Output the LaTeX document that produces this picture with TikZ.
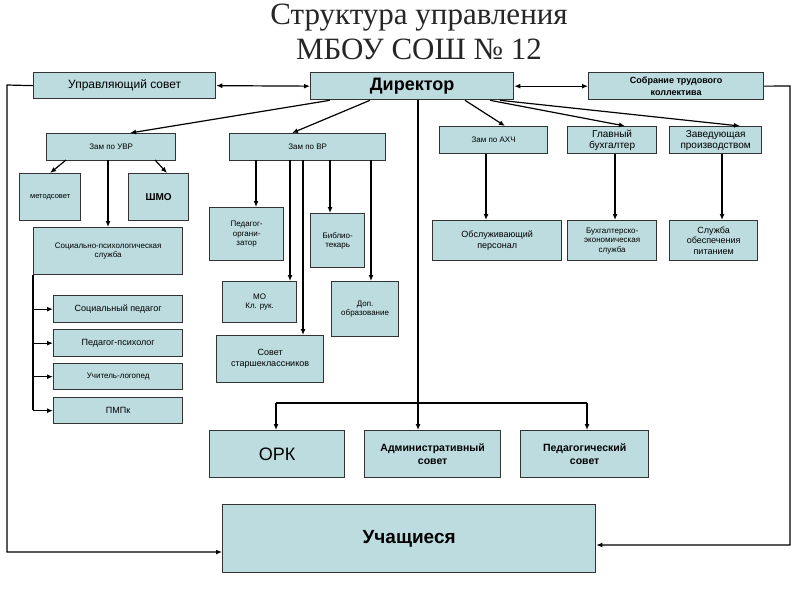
\documentclass[tikz,border=0pt]{standalone}
\usepackage{fontspec}
\setmainfont{Liberation Sans}
\newfontfamily\titlefont{Liberation Serif}
\usetikzlibrary{arrows.meta}
\definecolor{boxc}{HTML}{BCDCDF}
\begin{document}
\begin{tikzpicture}[x=1pt,y=-1pt,
  bx/.style={draw=black!80,line width=1.3pt,fill=boxc,inner sep=0pt,align=center,font=\fontsize{8}{9.5}\selectfont},
  ar/.style={-{Latex[length=6pt,width=5pt]},line width=1.2pt},
  ln/.style={line width=1.2pt}]
\useasboundingbox (0,0) rectangle (800,590);
% title
\node[font=\titlefont\fontsize{31}{31}\selectfont,text=black!85] (t1) at (419,18) {Структура управления};
\node[font=\titlefont\fontsize{31}{31}\selectfont,text=black!85] (t2) at (419,49) {МБОУ СОШ № 12};
% boxes
\node[bx,minimum width=182,minimum height=26,anchor=north west,font=\fontsize{12}{14}\selectfont] (us) at (33,72) {Управляющий совет};
\node[bx,minimum width=203,minimum height=27,anchor=north west,font=\bfseries\fontsize{18}{20}\selectfont] (dir) at (310,72) {Директор};
\node[bx,minimum width=175,minimum height=27,anchor=north west,font=\bfseries\fontsize{9}{12}\selectfont] (sob) at (588,72) {Собрание трудового\\коллектива};
\node[bx,minimum width=129,minimum height=27,anchor=north west] (uvr) at (46,133) {Зам по УВР};
\node[bx,minimum width=156,minimum height=27,anchor=north west] (vr) at (229,133) {Зам по ВР};
\node[bx,minimum width=108,minimum height=27,anchor=north west] (ahch) at (439,126) {Зам по АХЧ};
\node[bx,minimum width=89,minimum height=27,anchor=north west,font=\fontsize{10}{11}\selectfont] (gb) at (567,126) {Главный\\бухгалтер};
\node[bx,minimum width=92,minimum height=27,anchor=north west,font=\fontsize{10}{11}\selectfont] (zav) at (669,126) {Заведующая\\производством};
\node[bx,minimum width=61,minimum height=47,anchor=north west,font=\fontsize{7.5}{9}\selectfont] (met) at (19,173) {методсовет};
\node[bx,minimum width=60,minimum height=47,anchor=north west,font=\bfseries\fontsize{10}{12}\selectfont] (shmo) at (128,173) {ШМО};
\node[bx,minimum width=149,minimum height=47,anchor=north west] (sps) at (33,227) {Социально-психологическая\\служба};
\node[bx,minimum width=129,minimum height=27,anchor=north west,font=\fontsize{9}{11}\selectfont] (sp) at (53,295) {Социальный педагог};
\node[bx,minimum width=129,minimum height=27,anchor=north west,font=\fontsize{9}{11}\selectfont] (pp) at (53,329) {Педагог-психолог};
\node[bx,minimum width=129,minimum height=26,anchor=north west] (ul) at (53,363) {Учитель-логопед};
\node[bx,minimum width=129,minimum height=26,anchor=north west,font=\fontsize{9}{11}\selectfont] (pmpk) at (53,397) {ПМПк};
\node[bx,minimum width=74,minimum height=53,anchor=north west] (po) at (209,207) {Педагог-\\органи-\\затор};
\node[bx,minimum width=54,minimum height=54,anchor=north west] (bib) at (310,213) {Библио-\\текарь};
\node[bx,minimum width=74,minimum height=41,anchor=north west] (mo) at (222,281) {МО\\Кл. рук.};
\node[bx,minimum width=67,minimum height=55,anchor=north west] (dop) at (331,281) {Доп.\\образование};
\node[bx,minimum width=107,minimum height=47,anchor=north west,font=\fontsize{9}{11}\selectfont] (sst) at (216,335) {Совет\\старшеклассников};
\node[bx,minimum width=129,minimum height=40,anchor=north west,font=\fontsize{9}{11}\selectfont] (obs) at (432,220) {Обслуживающий\\персонал};
\node[bx,minimum width=89,minimum height=40,anchor=north west] (bes) at (567,220) {Бухгалтерско-\\экономическая\\служба};
\node[bx,minimum width=88,minimum height=40,anchor=north west,font=\fontsize{9}{10.5}\selectfont] (spit) at (669,220) {Служба\\обеспечения\\питанием};
\node[bx,minimum width=135,minimum height=47,anchor=north west,font=\fontsize{18}{20}\selectfont] (ork) at (209,430) {ОРК};
\node[bx,minimum width=136,minimum height=47,anchor=north west,font=\bfseries\fontsize{10.5}{13}\selectfont] (adm) at (364,430) {Административный\\совет};
\node[bx,minimum width=128,minimum height=47,anchor=north west,font=\bfseries\fontsize{10.5}{13}\selectfont] (ped) at (520,430) {Педагогический\\совет};
\node[bx,minimum width=373,minimum height=68,anchor=north west,font=\bfseries\fontsize{19}{21}\selectfont] (uch) at (222,504) {Учащиеся};
% top arrows
\draw[ar,{Latex[length=6pt,width=5pt]}-{Latex[length=6pt,width=5pt]}] (us.east) -- (dir.west);
\draw[ar,{Latex[length=6pt,width=5pt]}-{Latex[length=6pt,width=5pt]}] (dir.east) -- (sob.west);
\draw[ar] (dir.south west)++(20,0) -- (130,133);
\draw[ar] (dir.south west)++(60,0) -- (292,133);
\draw[ar] (dir.south west)++(155,0) -- (505,126);
\draw[ar] (dir.south west)++(180,0) -- (625,126);
\draw[ar] (dir.south west)++(190,0) -- (740,126);
% UVR
\draw[ar] (66,160) -- (met.north);
\draw[ar] (108,160) -- (sps.north -| 108,0);
\draw[ar] (155,160) -- (167,173);
\draw[ln] (sps.south west) -- (33,410);
\foreach \n in {sp,pp,ul,pmpk} \draw[ar] (\n.west -| 33,0) -- (\n.west);
% VR
\draw[ar] (256,160) -- (po.north -| 256,0);
\draw[ar] (290,160) -- (mo.north -| 290,0);
\draw[ar] (303,160) -- (sst.north -| 303,0);
\draw[ar] (330,160) -- (bib.north -| 330,0);
\draw[ar] (371,160) -- (dop.north -| 371,0);
% right column
\draw[ar] (ahch.south -| 486,0) -- (obs.north -| 486,0);
\draw[ar] (gb.south -| 615,0) -- (bes.north -| 615,0);
\draw[ar] (zav.south -| 722,0) -- (spit.north -| 722,0);
% councils
\draw[ar] (dir.south -| 418,0) -- (adm.north -| 418,0);
\draw[ar] (276,403) -- (ork.north -| 276,0);
\draw[ln] (276,403) -- (587,403);
\draw[ar] (587,403) -- (ped.north -| 587,0);
% loops
\draw[ar] (us.west) -- (7,85) -- (7,552) -- (uch.west |- 0,552);
\draw[ar] (sob.east) -- (790,86) -- (790,545) -- (uch.east |- 0,545);
\end{tikzpicture}
\end{document}
